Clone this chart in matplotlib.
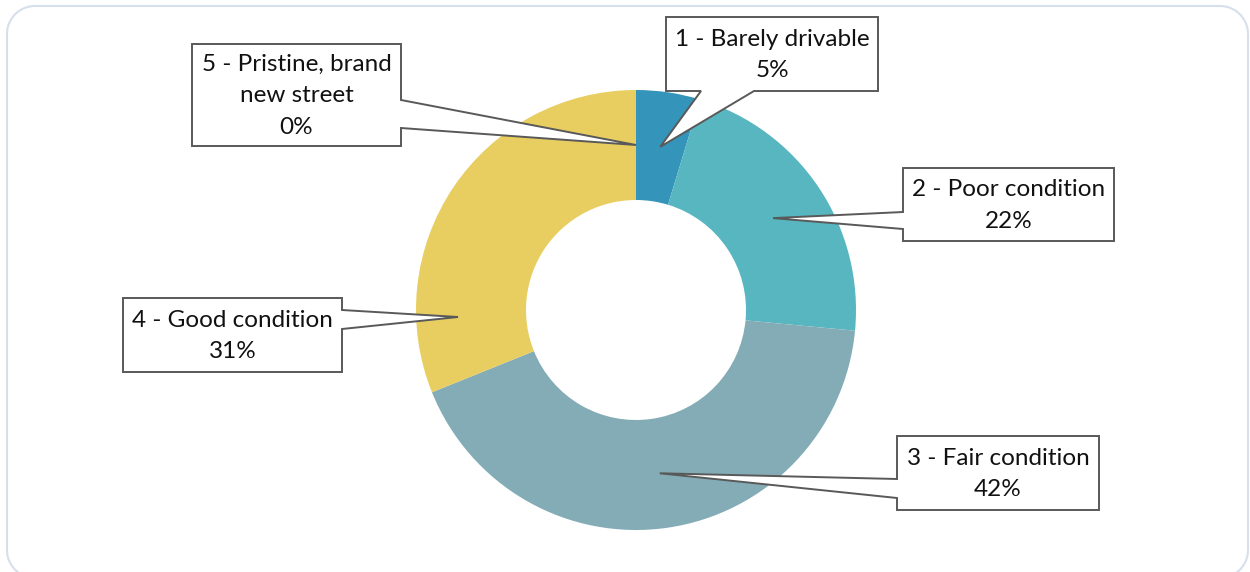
import matplotlib.pyplot as plt
import numpy as np
from matplotlib.patches import Polygon

plt.rcParams['font.family'] = ['Lato', 'DejaVu Sans']

# street condition ratings (share of answers, %)
labels = ['1 - Barely drivable', '2 - Poor condition', '3 - Fair condition',
          '4 - Good condition', '5 - Pristine, brand\nnew street']
shares = [4.7, 21.8, 42.4, 31.1, 0.0]
colors = ['#3494BA', '#58B6C0', '#84ACB6', '#E8CE60', '#75BDA7']

W, H = 1250, 572
cx, cy, r_out, ring = 636, 310, 220, 110

fig = plt.figure(figsize=(W / 100, H / 100), dpi=100)
ax = fig.add_axes([0, 0, 1, 1])

# y axis runs downwards (pixel style), so start at -90 and go "counterclockwise"
wedges, _ = ax.pie(shares, colors=colors, startangle=-90, counterclock=True,
                   radius=r_out, center=(cx, cy),
                   wedgeprops=dict(width=ring, linewidth=0))
ax.set_xlim(0, W)
ax.set_ylim(H, 0)
ax.set_aspect('auto')
ax.axis('off')

# outer rounded frame (bottom edge lies just below the picture)
def rounded_rect(x0, y0, x1, y1, rr):
    pts = []
    for (ccx, ccy, a0) in [(x1 - rr, y0 + rr, -90), (x1 - rr, y1 - rr, 0),
                           (x0 + rr, y1 - rr, 90), (x0 + rr, y0 + rr, 180)]:
        a = np.deg2rad(np.linspace(a0, a0 + 90, 20))
        pts += list(zip(ccx + rr * np.cos(a), ccy + rr * np.sin(a)))
    pts.append(pts[0])
    return np.array(pts)

fr = rounded_rect(7, 6, 1248, 578, 28)
ax.plot(fr[:, 0], fr[:, 1], color='#D6E0EC', lw=1.5)

# callout boxes: (left, top, right, bottom), pointer side, pointer base span
boxes = [
    ((666, 17, 878, 91), 'bottom', (701, 754)),
    ((903, 168, 1114, 241), 'left', (212, 229)),
    ((897, 436, 1099, 510), 'left', (479, 498)),
    ((123, 298, 342, 372), 'right', (310, 329)),
    ((192, 44, 401, 146), 'right', (100, 128)),
]
tip_override = {3: (458, 317)}

r_mid = r_out - ring / 2
for i, (w, lab, v) in enumerate(zip(wedges, labels, shares)):
    t = np.deg2rad((w.theta1 + w.theta2) / 2)
    tip = tip_override.get(i, (cx + r_mid * np.cos(t), cy + r_mid * np.sin(t)))
    (L, T, R, B), side, (b1, b2) = boxes[i]
    if side == 'bottom':
        pts = [(L, T), (R, T), (R, B), (b2, B), tip, (b1, B), (L, B)]
    elif side == 'left':
        pts = [(L, T), (R, T), (R, B), (L, B), (L, b2), tip, (L, b1)]
    else:
        pts = [(L, T), (R, T), (R, b1), tip, (R, b2), (R, B), (L, B)]
    ax.add_patch(Polygon(pts, closed=True, fc='white', ec='#595959', lw=1.4,
                         joinstyle='miter', zorder=3))
    ax.text((L + R) / 2, (T + B) / 2 + 1, f'{lab}\n{v:.0f}%', ha='center', va='center',
            fontsize=17.5, color='#111111', linespacing=1.6, zorder=4)

fig.savefig('out.png', dpi=100)
